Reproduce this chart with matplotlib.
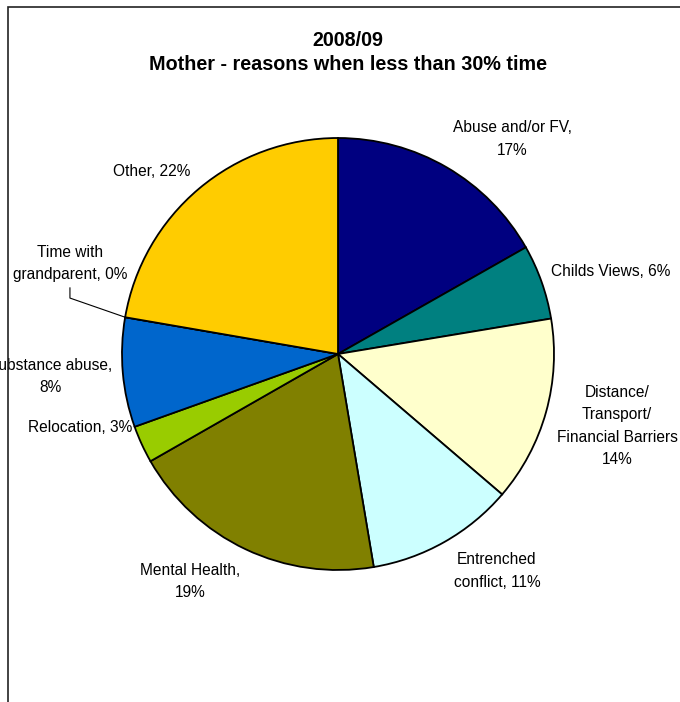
import numpy as np
import matplotlib
matplotlib.use("Agg")
import matplotlib.pyplot as plt
from matplotlib.patches import Rectangle

plt.rcParams['font.family'] = ['Liberation Sans', 'DejaVu Sans']

# ---- data ----
categories = ["Abuse and/or FV", "Childs Views", "Distance/\nTransport/\nFinancial Barriers",
              "Entrenched\nconflict", "Mental Health", "Relocation", "Substance abuse",
              "Time with\ngrandparent", "Other"]
values = [16.8, 5.6, 13.9, 11.1, 19.4, 2.8, 8.2, 0.0, 22.3]
colors = ["#000080", "#008080", "#FFFFCC", "#CCFFFF", "#808000", "#99CC00", "#0066CC", "#FF99CC", "#FFCC00"]
title_lines = ["2008/09", "Mother - reasons when less than 30% time"]

# label layout (text centre in pie-radius units) and separator between name and percent
label_pos = [(0.806, 0.995), (1.264, 0.380), (1.292, -0.333), (0.736, -1.005), (-0.685, -1.053),
             (-1.194, -0.338), (-1.333, -0.104), (-1.241, 0.419), (-0.861, 0.843)]
label_sep = [",\n", ", ", "\n", ", ", ",\n", ", ", ",\n", ", ", ", "]

W, H = 680, 702
fig = plt.figure(figsize=(W / 100, H / 100), dpi=100)
fig.patch.set_facecolor("white")

# outer chart frame (top-left corner visible, rest cut off)
fig.patches.append(Rectangle((8 / W, -0.1), 1.2, 1.1 - 7 / H, transform=fig.transFigure,
                             fill=False, edgecolor="#222222", linewidth=1.2))

cx, cy, r = 338, 354, 216
ax = fig.add_axes([(cx - r) / W, 1 - (cy + r) / H, 2 * r / W, 2 * r / H])
wedges, _ = ax.pie(values, colors=colors, startangle=90, counterclock=False, radius=1,
                   wedgeprops=dict(edgecolor="black", linewidth=1.3))
ax.set_xlim(-1, 1)
ax.set_ylim(-1, 1)
ax.set_aspect("equal")
ax.axis("off")

total = sum(values)
for i, (cat, v) in enumerate(zip(categories, values)):
    pct = round(v / total * 100)
    txt = f"{cat}{label_sep[i]}{pct}%"
    x, y = label_pos[i]
    ax.text(x, y, txt, ha="center", va="center", fontsize=11.2, linespacing=1.62,
            clip_on=False, color="black")

# leader line for the 0% slice
w = wedges[7]
th = np.deg2rad(w.theta1)
lx, ly = label_pos[7]
ax.plot([lx, lx, np.cos(th)], [ly - 0.113, ly - 0.16, np.sin(th)], color="black",
        linewidth=0.8, clip_on=False)

fig.text(348 / W, 1 - 40 / H, title_lines[0], ha="center", va="center",
         fontsize=14.2, fontweight="bold")
fig.text(348 / W, 1 - 64 / H, title_lines[1], ha="center", va="center",
         fontsize=14.2, fontweight="bold")

fig.savefig("out.png", dpi=100)
